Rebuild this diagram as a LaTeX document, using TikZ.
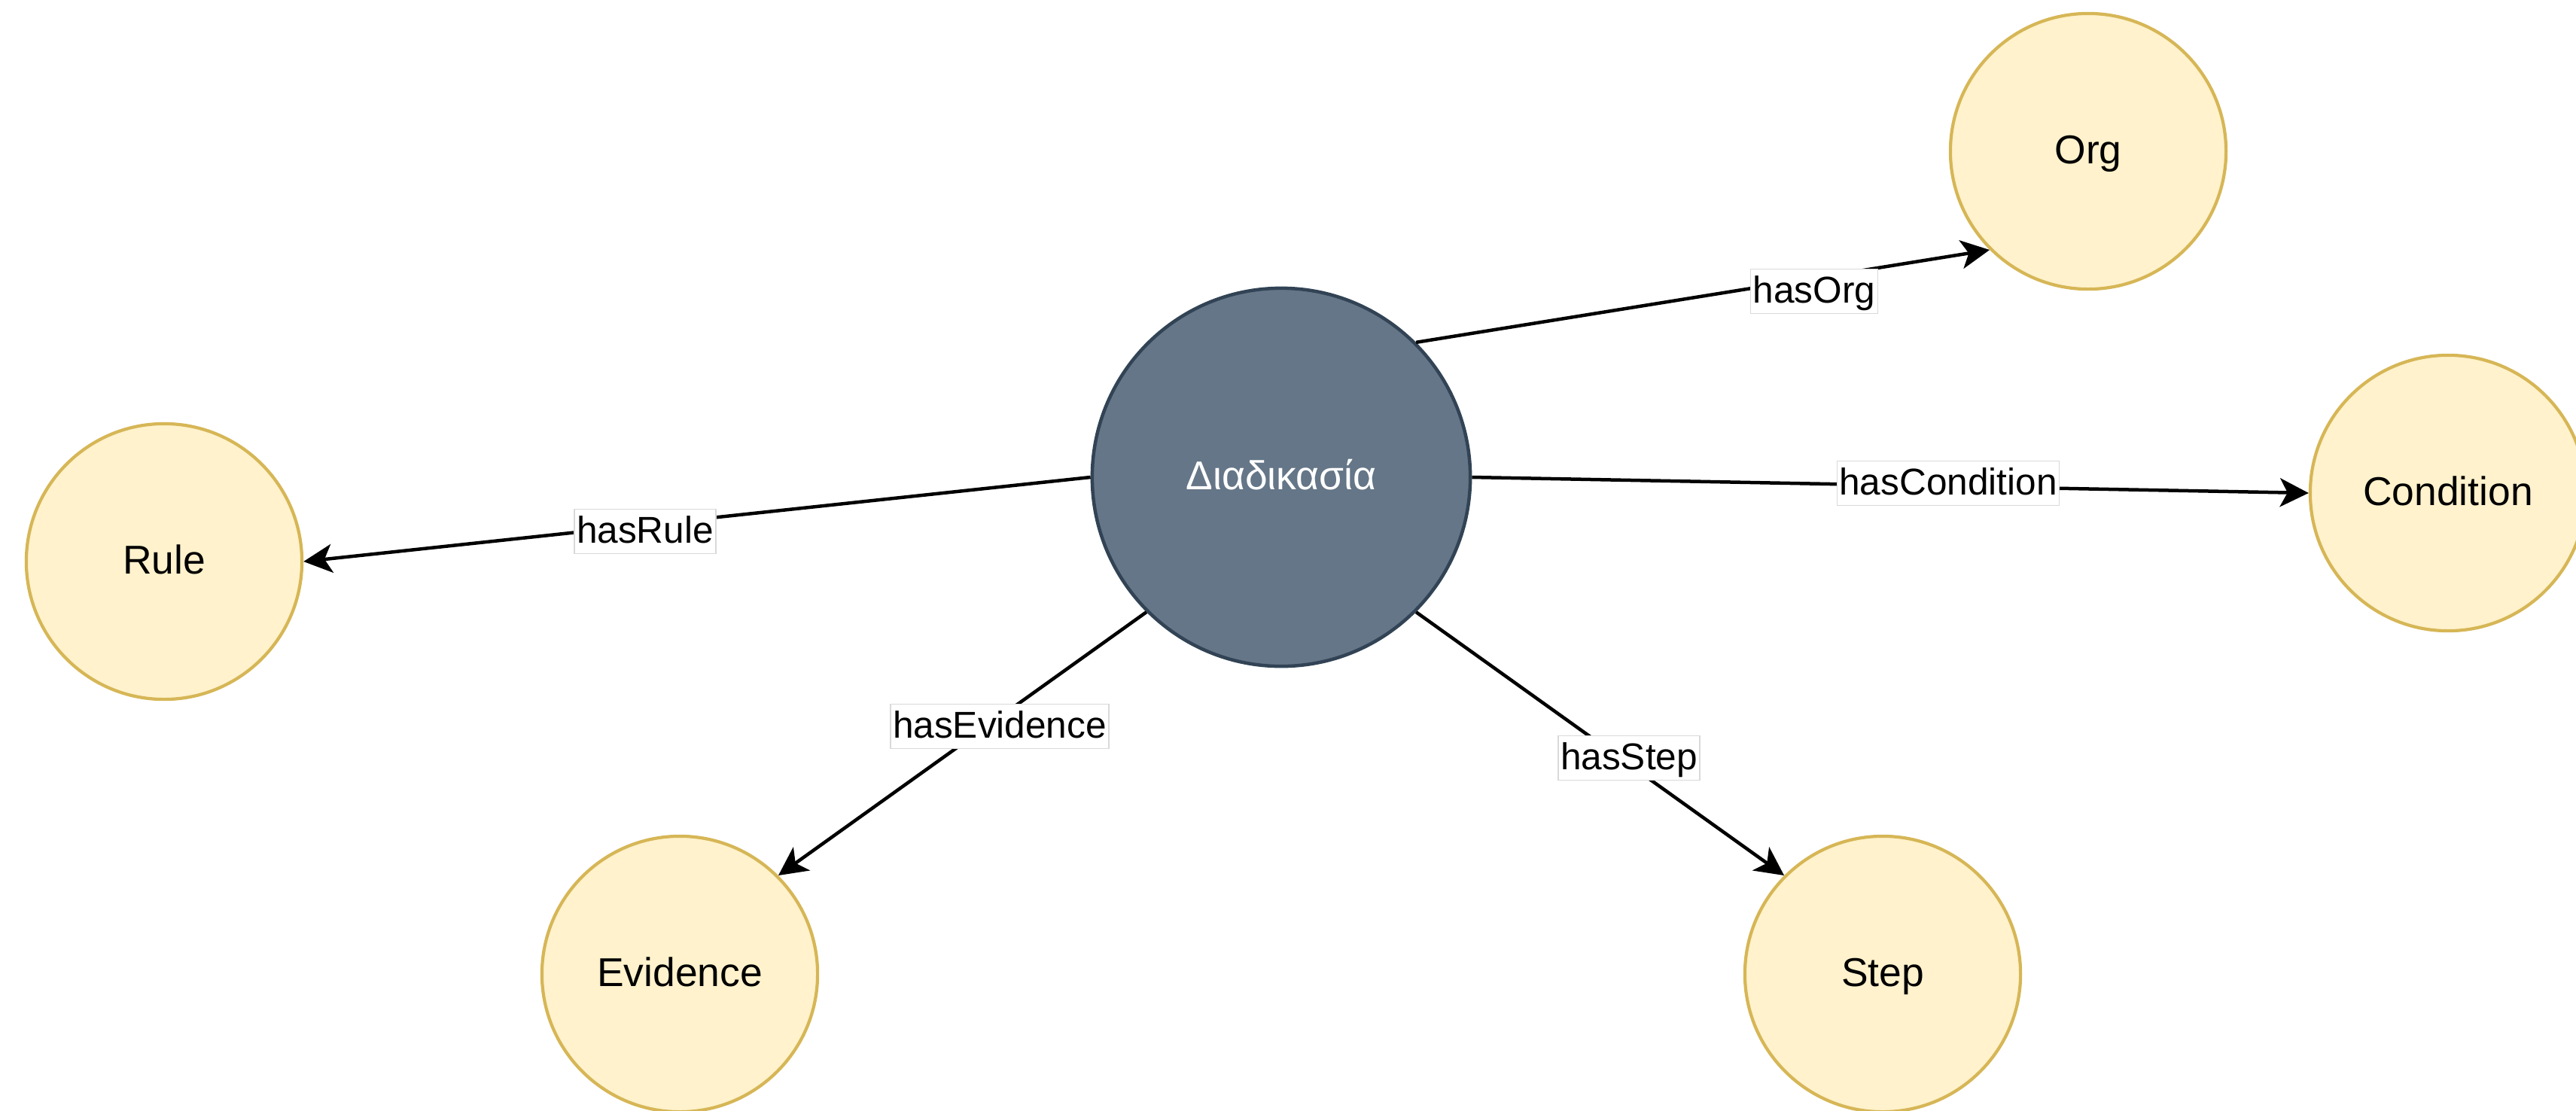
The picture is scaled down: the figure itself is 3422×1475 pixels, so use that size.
\documentclass[tikz,border=0pt]{standalone}
\usepackage{fontspec}
\setmainfont{Liberation Sans}
\usetikzlibrary{arrows.meta}

\definecolor{entfill}{HTML}{FFF2CC}
\definecolor{entline}{HTML}{D6B656}
\definecolor{corefill}{HTML}{647687}
\definecolor{coreline}{HTML}{314354}
\definecolor{lblline}{HTML}{D9D9D9}

\tikzset{
  entity/.style={circle, draw=entline, fill=entfill, line width=0.042cm,
    inner sep=0pt, minimum size=3.66cm, text=black,
    font=\fontsize{15.2pt}{18pt}\selectfont,
    text height=0.5cm, text depth=0.18cm},
  core/.style={circle, draw=coreline, fill=corefill, line width=0.045cm,
    inner sep=0pt, minimum size=5.02cm, text=white,
    font=\fontsize{15.2pt}{18pt}\selectfont,
    text height=0.5cm, text depth=0.18cm},
  rel/.style={line width=0.045cm, draw=black,
    -{Stealth[length=0.38cm,width=0.38cm,inset=0.1cm]}},
  lbl/.style={fill=white, draw=lblline, line width=0.012cm,
    inner xsep=0.03cm, inner ysep=0pt,
    text height=0.443cm, text depth=0.143cm,
    font=\fontsize{14.1pt}{17pt}\selectfont}
}

\begin{document}
\begin{tikzpicture}[x=0.01cm, y=-0.01cm]
  \useasboundingbox (0,0) rectangle (3422,1475);
  \clip (0,0) rectangle (3422,1475);

  % central concept and its related entities
  \node[core]   (proc) at (1702,634)  {Διαδικασία};
  \node[entity] (org)  at (2774,201)  {Org};
  \node[entity] (cond) at (3252,655)  {Condition};
  \node[entity] (rule) at (218,746)   {Rule};
  \node[entity] (evid) at (903,1294)  {Evidence};
  \node[entity] (stp)  at (2501,1294) {Step};

  % relations
  \draw[rel] (proc.north east) -- (org.south west);
  \draw[rel] (proc.east)       -- (cond.west);
  \draw[rel] (proc.west)       -- (rule.east);
  \draw[rel] (proc.south west) -- (evid.north east);
  \draw[rel] (proc.south east) -- (stp.north west);

  % relation labels
  \node[lbl] (lorg)  at (2410,387)  {hasOrg};
  \node[lbl] (lcond) at (2588,642)  {hasCondition};
  \node[lbl] (lrule) at (857,706)   {hasRule};
  \node[lbl] (levid) at (1328,965)  {hasEvidence};
  \node[lbl] (lstp)  at (2164,1007) {hasStep};
\end{tikzpicture}
\end{document}
